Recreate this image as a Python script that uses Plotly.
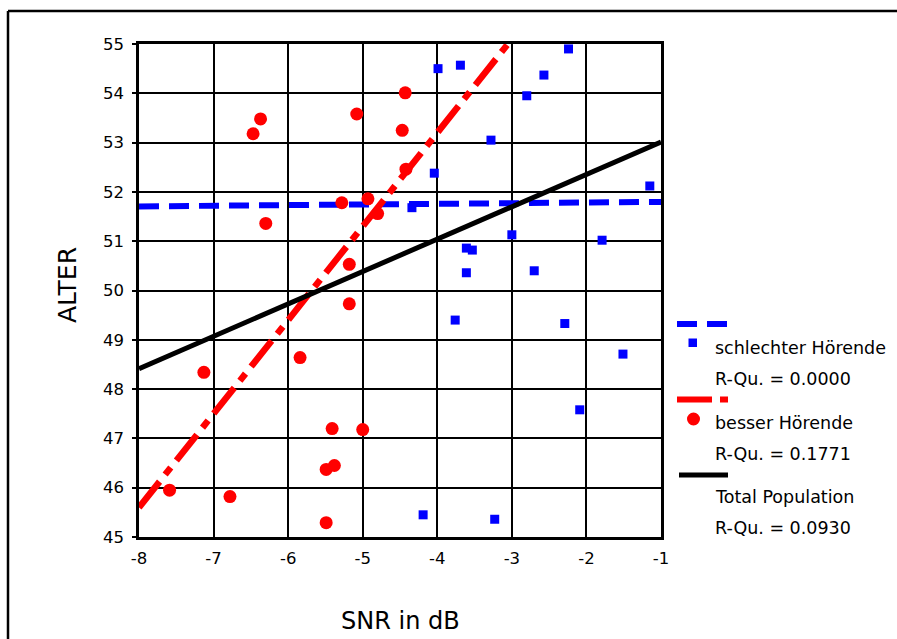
import plotly.graph_objects as go
import numpy as np

# --- data -------------------------------------------------------------
# schlechter Hörende (SNR in dB, ALTER)
schlecht_snr = [-2.24, -3.99, -3.69, -2.57, -2.80, -3.28, -4.04, -1.15, -4.34, -3.00, -1.79,
                -3.61, -3.53, -3.61, -2.70, -3.76, -2.29, -1.51, -2.09, -4.19, -3.23]
schlecht_alter = [54.90, 54.50, 54.57, 54.37, 53.95, 53.05, 52.38, 52.12, 51.68, 51.13, 51.02,
                  50.86, 50.82, 50.36, 50.40, 49.40, 49.33, 48.71, 47.58, 45.45, 45.36]

# besser Hörende (SNR in dB, ALTER)
besser_snr = [-6.37, -6.47, -5.08, -4.43, -4.47, -4.42, -5.28, -4.93, -4.80, -6.30, -5.18,
              -5.18, -5.84, -7.13, -5.41, -5.00, -5.49, -5.38, -7.59, -6.78, -5.49]
besser_alter = [53.48, 53.18, 53.58, 54.01, 53.25, 52.46, 51.78, 51.86, 51.56, 51.36, 50.53,
                49.73, 48.64, 48.34, 47.20, 47.18, 46.37, 46.45, 45.95, 45.82, 45.29]

# linear fits: [intercept, slope]
fit_schlecht = [51.81, 0.013]
fit_besser = [60.80, 1.90]
fit_total = [53.67, 0.657]

r2_labels = ["R-Qu. = 0.0000", "R-Qu. = 0.1771", "R-Qu. = 0.0930"]
group_names = ["schlechter Hörende", "besser Hörende", "Total Population"]

x_ticks = [-8, -7, -6, -5, -4, -3, -2, -1]
x_ticktext = ["-8", "-7", "-6", "-5", "-4", "-3", "-2", "-1"]
y_ticks = [45, 46, 47, 48, 49, 50, 51, 52, 53, 54, 55]

# --- layout geometry --------------------------------------------------
W, H = 897, 639
L, R, T, B = 139, 236, 44, 102
PW, PH = W - L - R, H - T - B


def fx(px):
    return (px - L) / PW


def fy(py):
    return (H - B - py) / PH


FONT = "DejaVu Sans"
BLUE = "#0000ff"
RED = "#ff0000"
BLACK = "#000000"

fit_x = np.array([x_ticks[0], x_ticks[-1]], dtype=float)

fig = go.Figure()

fig.add_trace(go.Scatter(x=schlecht_snr, y=schlecht_alter, mode="markers",
                         marker=dict(symbol="square", size=9, color=BLUE),
                         showlegend=False))
fig.add_trace(go.Scatter(x=fit_x, y=fit_schlecht[0] + fit_schlecht[1] * fit_x, mode="lines",
                         line=dict(color=BLUE, width=6, dash="20px,10px"),
                         showlegend=False))
fig.add_trace(go.Scatter(x=besser_snr, y=besser_alter, mode="markers",
                         marker=dict(symbol="circle", size=13, color=RED),
                         showlegend=False))
fig.add_trace(go.Scatter(x=fit_x, y=fit_besser[0] + fit_besser[1] * fit_x, mode="lines",
                         line=dict(color=RED, width=6.5, dash="33px,9px,9px,9px"),
                         showlegend=False))
fig.add_trace(go.Scatter(x=fit_x, y=fit_total[0] + fit_total[1] * fit_x, mode="lines",
                         line=dict(color=BLACK, width=5),
                         showlegend=False))

shapes = []
annotations = []

# outer frame (top and left edges)
shapes.append(dict(type="line", xref="paper", yref="paper",
                   x0=fx(8), y0=fy(H + 5), x1=fx(8), y1=fy(11),
                   line=dict(color=BLACK, width=2.5)))
shapes.append(dict(type="line", xref="paper", yref="paper",
                   x0=fx(8), y0=fy(11), x1=fx(W + 5), y1=fy(11),
                   line=dict(color=BLACK, width=2.5)))

# legend: line samples, marker samples and text
lx0, lx1 = 677, 728
shapes.append(dict(type="line", xref="paper", yref="paper",
                   x0=fx(lx0), y0=fy(324), x1=fx(lx1), y1=fy(324),
                   line=dict(color=BLUE, width=6, dash="20px,10px")))
shapes.append(dict(type="rect", xref="paper", yref="paper",
                   x0=fx(688.5), y0=fy(347), x1=fx(697), y1=fy(338.5),
                   fillcolor=BLUE, line=dict(width=0)))
shapes.append(dict(type="line", xref="paper", yref="paper",
                   x0=fx(lx0), y0=fy(399.5), x1=fx(lx1), y1=fy(399.5),
                   line=dict(color=RED, width=6, dash="35px,8px,8px,8px")))
shapes.append(dict(type="circle", xref="paper", yref="paper",
                   x0=fx(687), y0=fy(425.5), x1=fx(700), y1=fy(412.5),
                   fillcolor=RED, line=dict(width=0)))
shapes.append(dict(type="line", xref="paper", yref="paper",
                   x0=fx(lx0 + 2), y0=fy(475), x1=fx(lx1), y1=fy(475),
                   line=dict(color=BLACK, width=5)))

legend_rows = [(group_names[0], 347.5), (r2_labels[0], 378.5),
               (group_names[1], 423), (r2_labels[1], 453.5),
               (group_names[2], 497), (r2_labels[2], 528)]
for txt, py in legend_rows:
    annotations.append(dict(text=txt, xref="paper", yref="paper",
                            x=fx(713), y=fy(py), xanchor="left", yanchor="middle",
                            showarrow=False, font=dict(family=FONT, size=17.5, color=BLACK)))

# axis titles
annotations.append(dict(text="SNR in dB", xref="paper", yref="paper",
                        x=fx(400), y=fy(621), xanchor="center", yanchor="middle",
                        showarrow=False, font=dict(family=FONT, size=24, color=BLACK)))
annotations.append(dict(text="ALTER", xref="paper", yref="paper",
                        x=fx(67), y=fy(285), xanchor="center", yanchor="middle",
                        textangle=-90, showarrow=False,
                        font=dict(family=FONT, size=25, color=BLACK)))

fig.update_layout(
    width=W, height=H,
    margin=dict(l=L, r=R, t=T, b=B, pad=0),
    paper_bgcolor="white", plot_bgcolor="white",
    showlegend=False,
    shapes=shapes, annotations=annotations,
    font=dict(family=FONT, color=BLACK),
)
fig.update_xaxes(range=[x_ticks[0], x_ticks[-1]], tickvals=x_ticks, ticktext=x_ticktext,
                 showgrid=True, gridcolor=BLACK, gridwidth=1.5,
                 showline=True, linecolor=BLACK, linewidth=2.5, mirror=True,
                 ticks="", ticklabelstandoff=4,
                 tickfont=dict(family=FONT, size=16.5, color=BLACK), zeroline=False)
fig.update_yaxes(range=[y_ticks[0], y_ticks[-1]], tickvals=y_ticks,
                 showgrid=True, gridcolor=BLACK, gridwidth=1.5,
                 showline=True, linecolor=BLACK, linewidth=2.5, mirror=True,
                 ticks="outside", ticklen=4, tickwidth=2, tickcolor=BLACK,
                 ticklabelstandoff=5,
                 tickfont=dict(family=FONT, size=16.5, color=BLACK), zeroline=False)

fig.write_html("out.html")
